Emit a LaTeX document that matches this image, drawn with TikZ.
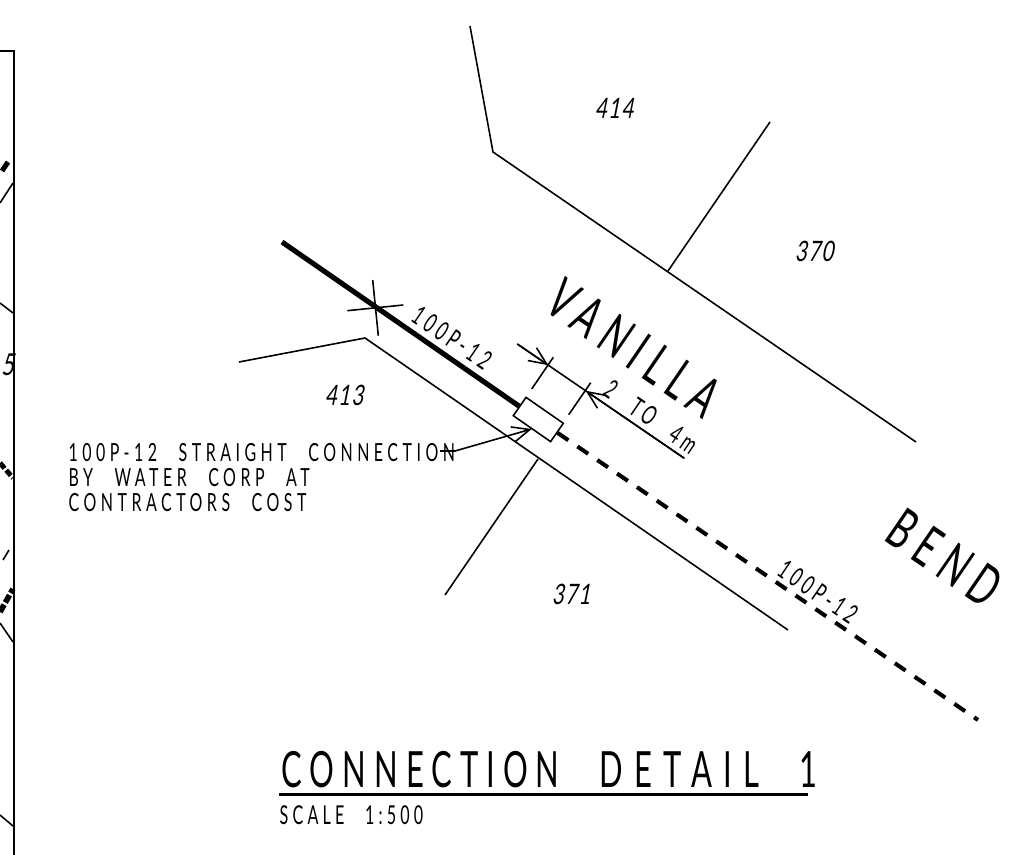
\documentclass[tikz,border=0pt]{standalone}
\usepackage{fontspec}
\usepackage{tikz}
\usetikzlibrary{arrows.meta}
\newfontfamily\cadfont[FakeStretch=0.62,LetterSpace=16,WordSpace=2.5]{Lato}
\newfontfamily\cadwide[FakeStretch=0.62,LetterSpace=23,WordSpace=2.5]{Lato}
\newfontfamily\cadsmall[FakeStretch=0.64,LetterSpace=18,WordSpace=2.5]{Lato}
\newfontfamily\cadslant[FakeStretch=0.72,LetterSpace=5,FakeSlant=0.2]{Lato}
\tikzset{>=latex}
\tikzset{
	lotline/.style={line width=0.45pt},
	framline/.style={line width=0.7pt},
	oldpipe/.style={line width=1.45pt},
	newpipe/.style={line width=1.15pt, dash pattern=on 3.7pt off 3.13pt},
	cadtext/.style={inner sep=0pt, font=\cadsmall\fontsize{7.1}{7}\selectfont},
	lotno/.style={inner sep=0pt, font=\cadslant\fontsize{8}{8}\selectfont},
	roadname/.style={inner sep=0pt, rotate=-34.4, font=\cadfont\fontsize{16}{16}\selectfont},
	pipetag/.style={inner sep=0pt, rotate=-34.4, font=\cadfont\fontsize{7.6}{8}\selectfont},
	barb/.style={-{Straight Barb[length=5pt,width=4.4pt]}, line width=0.45pt}
}
\begin{document}
\begin{tikzpicture}[x=0.01cm,y=-0.01cm]
\useasboundingbox (0,0) rectangle (1018,855);
% sheet frame on the left
	\draw[framline] (0,51) -- (14,51) -- (14,855);
	\draw[lotline] (0,203) -- (13,183);
	\draw[lotline] (0,303) -- (13,313);
	\draw[lotline] (0,623) -- (13,642);
	\draw[lotline] (0,815) -- (13,826);
	\draw[lotline] (3,560) -- (9,550);
	\draw[oldpipe] (2,171) -- (8,162);
	\draw[line width=1.4pt, dash pattern=on 2pt off 0.7pt] (0,463) -- (13,478);
	\draw[line width=1.6pt, dash pattern=on 2.4pt off 0.7pt] (0,612) -- (13,589);
	\node[lotno, font=\cadslant\fontsize{8.6}{8}\selectfont] (sheetno) at (7.5,365) {5};

% lot boundaries
	\draw[lotline] (470,26) -- (493,152) -- (916,442);
	\coordinate (northjoin) at (668,271);
	\draw[lotline] (770,122) -- (northjoin);
	\draw[lotline] (239,362) -- (365,338) -- (788,630);
	\coordinate (southjoin) at (538,459);
	\draw[lotline] (southjoin) -- (445,595);

% pipe and connection
	\node[draw, lotline, fill=white, minimum width=0.454cm, minimum height=0.223cm,
		inner sep=0pt, rotate=-34.8] (joint) at (538.3,419.5) {};
	\coordinate (pipestart) at (282,242);
	\coordinate (pipeend) at (978,720);
	\draw[oldpipe] (pipestart) -- (joint.west);
	\draw[newpipe] (joint.east) -- (pipeend);
	\draw[lotline] (372.7,280) -- (378.3,335.7);
	\draw[lotline] (347.3,310.7) -- (403.3,305);

% dimension
	\coordinate (dimstart) at (517.3,344);
	\coordinate (dimend) at (684.3,458.3);
	\coordinate (tipa) at (548.3,365.2);
	\coordinate (tipb) at (585.7,390.8);
	\draw[lotline] (dimstart) -- (dimend);
	\draw[barb] (dimstart) -- (tipa);
	\draw[barb] (dimend) -- (tipb);
	\draw[lotline] (553.3,357.3) -- (531.7,389);
	\draw[lotline] (590.7,382.7) -- (568.7,414.7);

% labels
	\node[roadname] (vanilla) at (634,348) {VANILLA};
	\node[roadname] (bend) at (945,558) {BEND};
	\node[pipetag] (tagold) at (452,338) {100P-12};
	\node[pipetag] (tagnew) at (818,592) {100P-12};
	\node[pipetag] (dimtext) at (651,417) {2 TO 4m};
	\node[lotno] (lotA) at (614,108) {414};
	\node[lotno] (lotB) at (814,251) {370};
	\node[lotno] (lotC) at (344,395) {413};
	\node[lotno] (lotD) at (571,594) {371};

% note and leader
	\node[cadtext, anchor=north west, align=left] (note) at (68,443)
		{100P-12 STRAIGHT CONNECTION\\BY WATER CORP AT\\CONTRACTORS COST};
	\coordinate (leader) at (440,451);
	\draw[barb] (leader) -- (455,451) -- (531.7,429);

% title
	\node[inner sep=0pt, anchor=base west, font=\cadfont\fontsize{14.2}{16}\selectfont] (title) at (281,787) {CONNECTION {\cadwide DETAIL} 1};
	\draw[line width=0.7pt] (279,794.5) -- (808,794.5);
	\node[inner sep=0pt, anchor=base west, font=\cadfont\fontsize{7.4}{8}\selectfont] (scale) at (279,824) {SCALE 1:500};
\end{tikzpicture}
\end{document}
